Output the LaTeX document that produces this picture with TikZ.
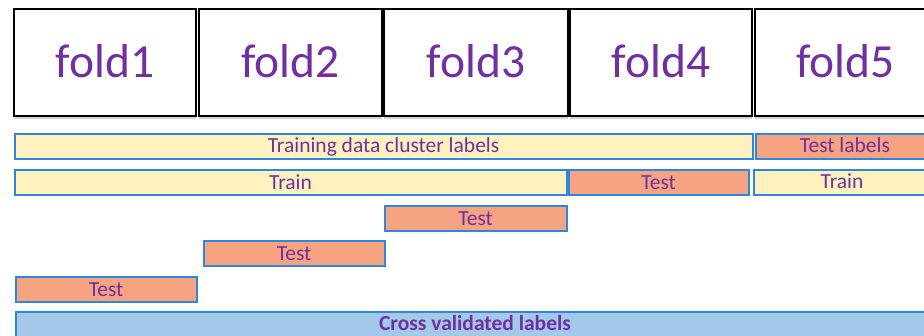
\documentclass[tikz,border=0pt]{standalone}
\usepackage{fontspec}
\setmainfont{Carlito}
\usetikzlibrary{shadows}
\definecolor{txtpurple}{HTML}{7030A0}
\definecolor{barblue}{HTML}{2E86DE}
\definecolor{trainfill}{HTML}{FFF2BE}
\definecolor{testfill}{HTML}{F5A380}
\definecolor{cvfill}{HTML}{A4C8E8}
\tikzset{
  foldbox/.style={draw=black, line width=1.8pt, fill=white, inner sep=0pt,
    drop shadow={shadow xshift=0pt, shadow yshift=-3pt, fill=black!35, opacity=0.5}},
  foldtext/.style={text=txtpurple, font=\fontsize{47.5}{47.5}\selectfont},
  bar/.style={draw=barblue, line width=2.2pt, inner sep=0pt, minimum height=25, anchor=north west},
  bartext/.style={text=txtpurple, font=\fontsize{21.5}{21.5}\selectfont},
  trainbar/.style={bar, fill=trainfill},
  testbar/.style={bar, fill=testfill},
  cvbar/.style={bar, fill=cvfill}
}
\begin{document}
\begin{tikzpicture}[x=1pt,y=-1pt]
\useasboundingbox (0,0) rectangle (924,335);
\begin{scope}
\clip (0,0) rectangle (924,335);
% folds
\foreach \n/\a/\b in {1/13/195,2/198/381,3/383/567,4/569/751,5/754/935}{
  \node[foldbox, minimum width=\b-\a, minimum height=107, anchor=north west] (fold\n) at (\a,8) {};
  \node[foldtext, anchor=mid] at ([yshift=-13pt]fold\n.center) {fold\n};
}
% row 1
\node[trainbar, minimum width=738] (tdcl) at (13.5,133) {};
\node[bartext] at (tdcl.center) {Training data cluster labels};
\node[testbar, minimum width=180] (tl) at (755,133) {};
\node[bartext] at (845,145.5) {Test labels};
% row 2
\node[trainbar, minimum width=552] (tr1) at (13.5,169) {};
\node[bartext] at (tr1.center) {Train};
\node[testbar, minimum width=180] (te4) at (567.5,169) {};
\node[bartext] at (te4.center) {Test};
\node[trainbar, minimum width=180] (tr5) at (752.5,169) {};
\node[bartext] at (842,181.5) {Train};
% row 3
\node[testbar, minimum width=182] (te3) at (383.5,205) {};
\node[bartext] at (te3.center) {Test};
% row 4
\node[testbar, minimum width=181] (te2) at (202.5,240) {};
\node[bartext] at (te2.center) {Test};
% row 5
\node[testbar, minimum width=181] (te1) at (14.5,276) {};
\node[bartext] at (te1.center) {Test};
% row 6
\node[cvbar, minimum width=930, minimum height=40] (cv) at (14.5,311) {};
\node[bartext, font=\fontsize{21.5}{21.5}\selectfont\bfseries] at (475,323) {Cross validated labels};
\end{scope}
\end{tikzpicture}
\end{document}
